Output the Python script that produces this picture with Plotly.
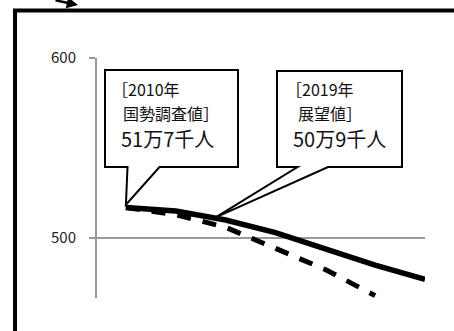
import plotly.graph_objects as go

# 人口の推移（千人）
YEARS      = [2010, 2015, 2020, 2025, 2030, 2035, 2040]
SOLID_VALS = [517, 515, 510, 503, 494, 485, 477]
YEARS_DASH = [2010, 2015, 2020, 2025, 2030, 2035]
DASH_VALS  = [517, 513, 506, 494.5, 482.5, 468]
Y_TICKS    = [500, 600]

# 吹き出し（指し示す先の年・値）
CALLOUT_TIPS = [(2010, 518.5), (2019, 511.5)]
CALLOUT_TEXT = [
    ["［2010年", "国勢調査値］", "51万7千人"],
    ["［2019年", "展望値］", "50万9千人"],
]

W, H = 454, 331
L, R, T, B = 97, 29, 58, 33
XR = [2007.1, 2040]
YR = [466.7, 600]
FONT = "Noto Sans CJK JP"


def xp(px):
    return (px - L) / (W - L - R)


def yp(py):
    return (H - B - py) / (H - T - B)


def dx(year):
    return (year - XR[0]) / (XR[1] - XR[0])


def dy(val):
    return (val - YR[0]) / (YR[1] - YR[0])


fig = go.Figure()
fig.add_trace(go.Scatter(x=YEARS, y=SOLID_VALS, mode="lines",
                         line=dict(color="black", width=5.5),
                         showlegend=False, hoverinfo="skip"))
fig.add_trace(go.Scatter(x=YEARS_DASH, y=DASH_VALS, mode="lines",
                         line=dict(color="black", width=5, dash="14px,12px"),
                         showlegend=False, hoverinfo="skip"))

shapes = []
# 外枠
shapes.append(dict(type="path", xref="paper", yref="paper",
                   path=f"M {xp(15)},{yp(345)} L {xp(15)},{yp(10.5)} L {xp(470)},{yp(10.5)}",
                   line=dict(color="black", width=4)))

# 吹き出しの枠（ピクセル位置: 左, 右, 上, 下, 尾の左, 尾の右）
boxes = [(105, 238, 70, 167, 127.5, 159.5), (277, 402, 71, 167, 297.5, 328)]
for (bl, br, bt, bb, t1, t2), (tx, ty) in zip(boxes, CALLOUT_TIPS):
    px_, py_ = dx(tx), dy(ty)
    path = (f"M {xp(bl)},{yp(bt)} L {xp(br)},{yp(bt)} L {xp(br)},{yp(bb)} "
            f"L {xp(t2)},{yp(bb)} L {px_},{py_} L {xp(t1)},{yp(bb)} "
            f"L {xp(bl)},{yp(bb)} Z")
    shapes.append(dict(type="path", xref="paper", yref="paper", path=path,
                       fillcolor="white", line=dict(color="black", width=2),
                       layer="above"))

annotations = []
# 各行の中心位置（ピクセル）
text_pos = [[(146, 89), (171, 113), (167.5, 138.5)],
            [(320, 89), (330, 113), (339, 138.5)]]
sizes = [16, 16, 20]
for lines, pos in zip(CALLOUT_TEXT, text_pos):
    for txt, (x0, y0), sz in zip(lines, pos, sizes):
        annotations.append(dict(text=txt, x=xp(x0), y=yp(y0), xref="paper", yref="paper",
                                xanchor="center", yanchor="middle", showarrow=False,
                                font=dict(family=FONT, size=sz, color="#111")))

# 上部の矢印（切れている）
annotations.append(dict(x=xp(78), y=yp(5), xref="paper", yref="paper", text="",
                        showarrow=True, ax=-24, ay=-7, arrowhead=2, arrowsize=0.9,
                        arrowwidth=2.5, arrowcolor="black"))

fig.update_layout(
    width=W, height=H,
    margin=dict(l=L, r=R, t=T, b=B),
    plot_bgcolor="white", paper_bgcolor="white",
    shapes=shapes, annotations=annotations,
    xaxis=dict(range=XR, visible=False, showgrid=False, zeroline=False),
    yaxis=dict(range=YR, tickvals=Y_TICKS, showgrid=True, gridcolor="#999999",
               gridwidth=2, showline=True, linecolor="#999999", linewidth=2,
               ticks="outside", ticklen=6, tickwidth=2, tickcolor="#999999",
               ticklabelstandoff=10, zeroline=False,
               tickfont=dict(family=FONT, size=15, color="#222")),
    font=dict(family=FONT),
)

# ページ既定の余白(8px)を消して、ウィンドウの左上に図を合わせる
fig.write_html("out.html", config={"displayModeBar": False},
               post_script="document.body.style.margin='0';")
